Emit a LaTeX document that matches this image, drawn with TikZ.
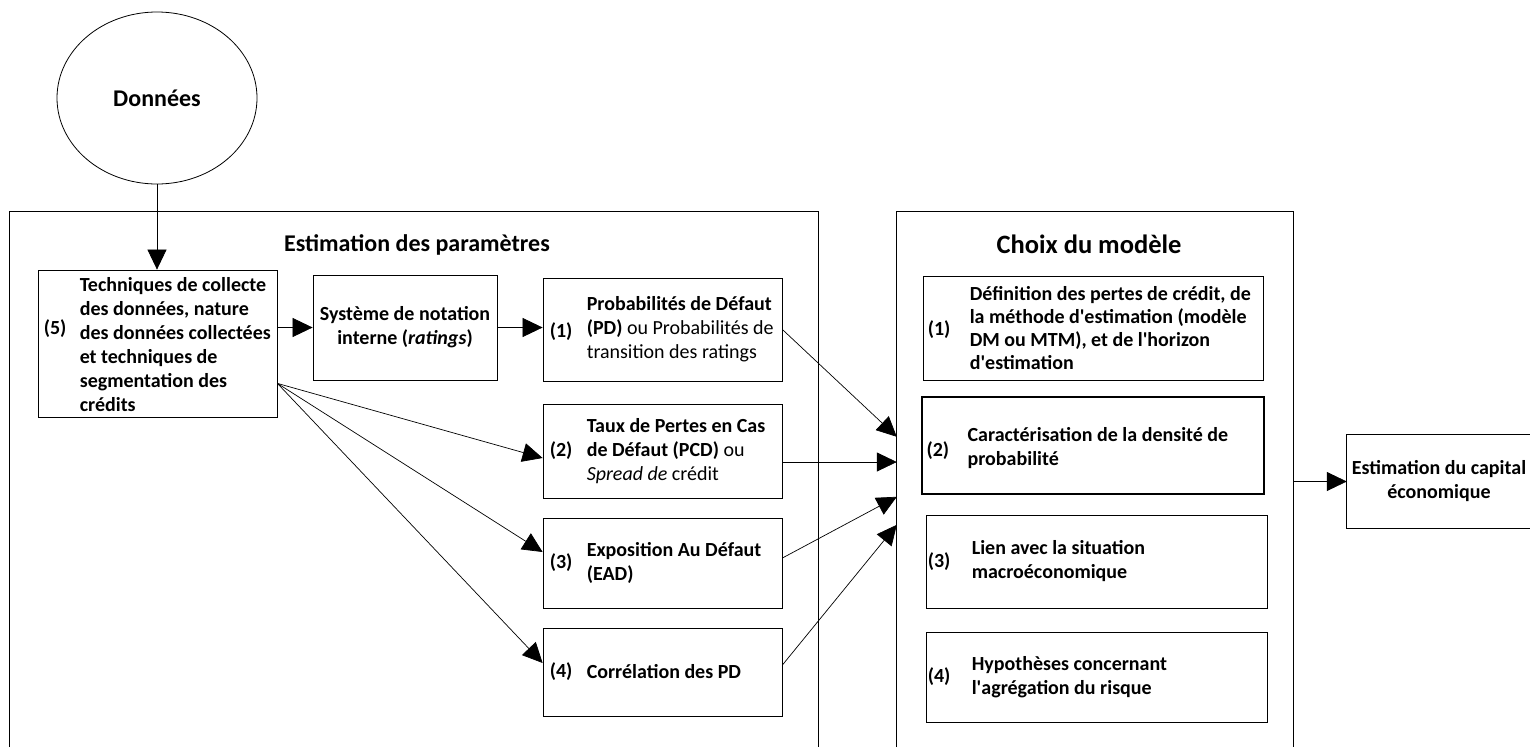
\documentclass[tikz,border=0pt]{standalone}
\usepackage{fontspec}
\setmainfont{Carlito}
\usetikzlibrary{arrows.meta,calc,shapes.geometric}
\newcommand{\apos}{\textquotesingle}
\begin{document}
\begin{tikzpicture}[x=1pt,y=-1pt,
  box/.style={draw, line width=0.8pt, inner sep=0pt, rectangle},
  frame/.style={inner sep=0pt, rectangle},
  ln/.style={line width=0.8pt},
  txt/.style={font=\bfseries\fontsize{20}{24}\selectfont, align=left, inner sep=0pt, anchor=west},
  ctxt/.style={font=\bfseries\fontsize{20}{24}\selectfont, align=center, inner sep=0pt},
  num/.style={font=\bfseries\fontsize{20}{24}\selectfont, inner sep=0pt, anchor=west},
  title/.style={font=\bfseries\fontsize{24}{28}\selectfont, inner sep=0pt},
  arr/.style={-{Triangle[length=20pt,width=19pt]}, line width=0.7pt}]
\useasboundingbox (0,0) rectangle (1530,747);

% data ellipse
\node[draw, ellipse, line width=0.8pt, minimum width=200pt, minimum height=172pt,
      font=\bfseries\fontsize{24}{28}\selectfont] (data) at (157,98) {Données};

% containers (open at the bottom)
\node[frame, minimum width=808pt, minimum height=535pt] (estim) at (414,479.5) {};
\draw[ln] (estim.south west) -- (estim.north west) -- (estim.north east) -- (estim.south east);
\node[title] (t1) at (417,245) {Estimation des paramètres};

\node[frame, minimum width=396pt, minimum height=535pt] (choix) at (1095,479.5) {};
\draw[ln] (choix.south west) -- (choix.north west) -- (choix.north east) -- (choix.south east);
\node[title, font=\bfseries\fontsize{26.5}{30}\selectfont] (t2) at (1089,244) {Choix du modèle};

% final box (open on the right, cut by the page edge)
\node[frame, minimum width=184pt, minimum height=93pt] (cap) at (1439,481.5) {};
\draw[ln] (cap.north east) -- (cap.north west) -- (cap.south west) -- (cap.south east);
\node[ctxt] (capt) at (cap) {Estimation du capital\\économique};

% left boxes
\node[box, minimum width=239pt, minimum height=147pt] (b5) at (157.5,343.5) {};
\node[num] (b5n) at ([xshift=6pt,yshift=15pt]b5.west) {(5)};
\node[txt] (b5t) at ([xshift=42pt,yshift=-1.5pt]b5.west) {Techniques de collecte\\des données, nature\\des données collectées\\et techniques de\\segmentation des\\crédits};

\node[box, minimum width=184pt, minimum height=105pt] (sys) at (405,327.5) {};
\node[ctxt] (syst) at (sys) {Système de notation\\interne (\textit{ratings})};

\node[box, minimum width=239pt, minimum height=103pt] (b1) at (662.5,329.5) {};
\node[num] (b1n) at ([xshift=7pt,yshift=-2pt]b1.west) {(1)};
\node[txt] (b1t) at ([xshift=44pt]b1.west) {Probabilités de Défaut\\(PD) \mdseries ou Probabilités de\\\mdseries transition des ratings};

\node[box, minimum width=239pt, minimum height=94pt] (b2) at (662.5,451) {};
\node[num] (b2n) at ([xshift=7pt]b2.west) {(2)};
\node[txt] (b2t) at ([xshift=44pt]b2.west) {Taux de Pertes en Cas\\de Défaut (PCD) \textmd{ou}\\\textmd{\textit{Spread de} crédit}};

\node[box, minimum width=239pt, minimum height=90pt] (b3) at (662.5,563) {};
\node[num] (b3n) at ([xshift=7pt]b3.west) {(3)};
\node[txt] (b3t) at ([xshift=44pt]b3.west) {Exposition Au Défaut\\(EAD)};

\node[box, minimum width=239pt, minimum height=88pt] (b4) at (662.5,672) {};
\node[num] (b4n) at ([xshift=7pt]b4.west) {(4)};
\node[txt] (b4t) at ([xshift=44pt]b4.west) {Corrélation des PD};

% right boxes
\node[box, minimum width=340pt, minimum height=104pt] (r1) at (1093,328) {};
\node[num] (r1n) at ([xshift=5pt,yshift=-2pt]r1.west) {(1)};
\node[txt, font=\bfseries\fontsize{20}{23}\selectfont] (r1t) at ([xshift=47pt]r1.west) {Définition des pertes de crédit, de\\la méthode d\apos estimation (modèle\\DM ou MTM), et de l\apos horizon\\d\apos estimation};

\node[box, line width=1.2pt, minimum width=342pt, minimum height=97pt] (r2) at (1093,445.5) {};
\node[num] (r2n) at ([xshift=5pt,yshift=-5pt]r2.west) {(2)};
\node[txt] (r2t) at ([xshift=46pt,yshift=-3pt]r2.west) {Caractérisation de la densité de\\probabilité};

\node[box, minimum width=341pt, minimum height=93pt] (r3) at (1096.5,561.5) {};
\node[num] (r3n) at ([xshift=2pt]r3.west) {(3)};
\node[txt] (r3t) at ([xshift=46pt]r3.west) {Lien avec la situation\\macroéconomique};

\node[box, minimum width=341pt, minimum height=90pt] (r4) at (1096.5,677) {};
\node[num] (r4n) at ([xshift=2pt]r4.west) {(4)};
\node[txt] (r4t) at ([xshift=46pt]r4.west) {Hypothèses concernant\\l\apos agrégation du risque};

% connectors
\draw[arr] (data.south) -- (data.south |- b5.north);
\draw[arr] (b5.east |- sys.west) -- (sys.west);
\draw[arr] (sys.east) -- (sys.east -| b1.west);

\coordinate (fan) at ($(b5.south east)+(0,-34)$);
\draw[arr] (fan) -- ($(b2.west)+(0,7)$);
\draw[arr] (fan) -- ($(b3.west)+(0,-11)$);
\draw[arr] (fan) -- ($(b4.west)+(0,-9)$);

\coordinate (in1) at ($(choix.north west)+(0,225)$);
\coordinate (in3) at ($(choix.north west)+(0,285)$);
\coordinate (in4) at ($(choix.north west)+(0,313)$);
\coordinate (o2) at ($(b2.east)+(0,11)$);
\draw[arr] (b1.east) -- (in1);
\draw[arr] (o2) -- (o2 -| choix.west);
\draw[arr] ($(b3.east)+(0,-5)$) -- (in3);
\draw[arr] ($(b4.east)+(0,-7)$) -- (in4);

\draw[arr] (choix.east |- cap.west) -- (cap.west);
\end{tikzpicture}
\end{document}
